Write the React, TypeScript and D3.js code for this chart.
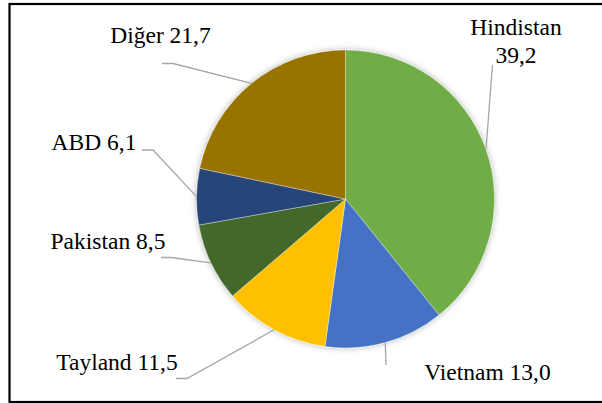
import React from "react";
import * as d3 from "d3";

const categories = ["Hindistan", "Vietnam", "Tayland", "Pakistan", "ABD", "Diğer"];
const values = [39.2, 13.0, 11.5, 8.5, 6.1, 21.7];
const valueLabels = ["39,2", "13,0", "11,5", "8,5", "6,1", "21,7"];
const colors = ["#70AD47", "#4472C4", "#FFC000", "#43682B", "#264478", "#997300"];

type LabelLayout = {
  lines: { text: string; x: number; y: number }[];
  leader: [number, number][];
};

const W = 602;
const H = 403;
const cx = 345.5;
const cy = 199;
const R = 149;

const layouts: LabelLayout[] = [
  {
    lines: [
      { text: categories[0], x: 516, y: 35 },
      { text: valueLabels[0], x: 516, y: 62.5 },
    ],
    leader: [[492.5, 65]],
  },
  {
    lines: [{ text: `${categories[1]} ${valueLabels[1]}`, x: 487.5, y: 380 }],
    leader: [[386, 365]],
  },
  {
    lines: [{ text: `${categories[2]} ${valueLabels[2]}`, x: 117, y: 369.5 }],
    leader: [[176, 378.5], [187, 378.5]],
  },
  {
    lines: [{ text: `${categories[3]} ${valueLabels[3]}`, x: 108, y: 248.5 }],
    leader: [[161, 257.5], [171, 257.5]],
  },
  {
    lines: [{ text: `${categories[4]} ${valueLabels[4]}`, x: 94, y: 150 }],
    leader: [[142, 150], [153, 150]],
  },
  {
    lines: [{ text: `${categories[5]} ${valueLabels[5]}`, x: 160.5, y: 42.5 }],
    leader: [[162, 63.5], [173, 63.5]],
  },
];

const FONT = "'Liberation Serif', 'DejaVu Serif', serif";

export default function App() {
  const pie = d3
    .pie<number>()
    .sort(null)
    .value((d) => d)(values);
  const arc = d3.arc<d3.PieArcDatum<number>>().innerRadius(0).outerRadius(R);

  return (
    <svg
      width={W}
      height={H}
      style={{ position: "absolute", left: 0, top: 0, background: "#fff" }}
    >
      <defs>
        <filter id="sh" x="-20%" y="-20%" width="140%" height="140%">
          <feDropShadow dx="0" dy="0" stdDeviation="3" floodColor="#000" floodOpacity="0.3" />
        </filter>
      </defs>
      <rect x={0} y={0} width={W} height={H} fill="#fff" />
      <rect x={9.5} y={4} width={620} height={398} fill="none" stroke="#000" strokeWidth={2.2} />
      <g transform={`translate(${cx},${cy})`} filter="url(#sh)">
        {pie.map((d, i) => (
          <path
            key={categories[i]}
            d={arc(d) || ""}
            fill={colors[i]}
            stroke="#fff"
            strokeOpacity={0.5}
            strokeWidth={0.7}
          />
        ))}
      </g>
      {pie.map((d, i) => {
        const mid = (d.startAngle + d.endAngle) / 2;
        const px = cx + R * Math.sin(mid);
        const py = cy - R * Math.cos(mid);
        const pts = [...layouts[i].leader, [px, py]];
        return (
          <polyline
            key={"l" + i}
            points={pts.map((p) => p.join(",")).join(" ")}
            fill="none"
            stroke="#A6A6A6"
            strokeWidth={1.3}
          />
        );
      })}
      {layouts.map((l, i) =>
        l.lines.map((ln, j) => (
          <text
            key={i + "-" + j}
            x={ln.x}
            y={ln.y}
            textAnchor="middle"
            style={{ fontFamily: FONT, fontSize: "23.5px" }}
            fill="#000"
          >
            {ln.text}
          </text>
        ))
      )}
    </svg>
  );
}
